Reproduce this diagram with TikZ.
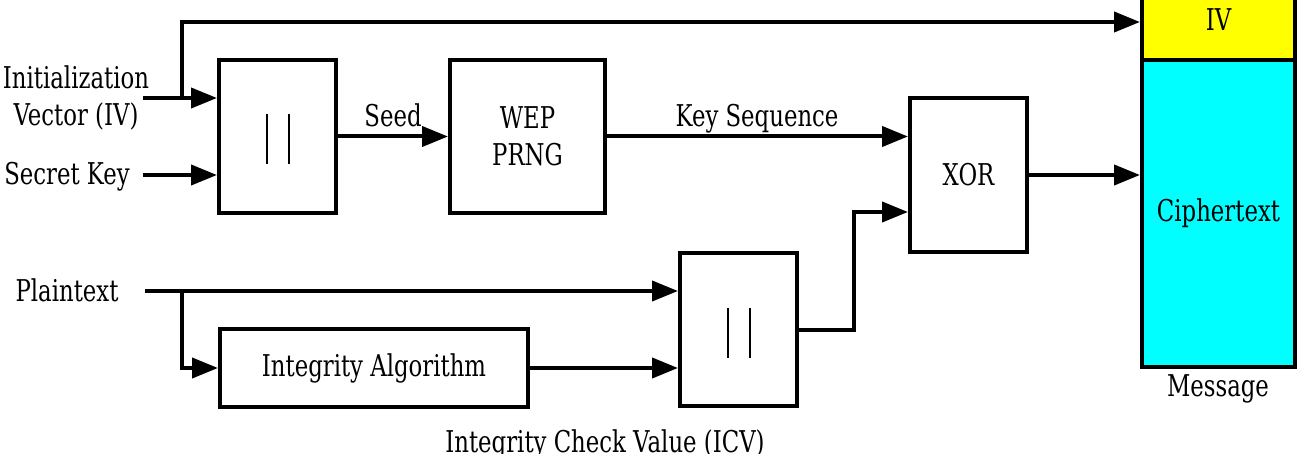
\documentclass[tikz,border=0pt]{standalone}
\usepackage{fontspec}
\setmainfont{DejaVu Serif}[FakeStretch=0.76]
\usetikzlibrary{arrows.meta,positioning}
\definecolor{ivyellow}{RGB}{255,255,0}
\definecolor{msgcyan}{RGB}{0,255,255}
\tikzset
{
    block/.style = {draw=black, line width=4pt, fill=white, align=center, inner sep=0pt},
    lbl/.style   = {inner sep=0pt, align=center},
    flow/.style  = {line width=4pt, -{Triangle[length=26pt,width=20pt]}}
}

\begin{document}
\begin{tikzpicture}[x=1pt,y=-1pt,font=\fontsize{30}{37}\selectfont]
\useasboundingbox (0,0) rectangle (1308,454);
\node [block, minimum width=117pt, minimum height=153pt] at (277.5,136.5) (cat1) {};
\node [block, minimum width=155pt, minimum height=153pt] at (527.5,136.5) (prng) {WEP\\PRNG};
\node [block, minimum width=117pt, minimum height=154pt] at (968.5,175) (xor) {XOR};
\node [block, minimum width=308pt, minimum height=78pt] at (374,368) (integ) {Integrity Algorithm};
\node [block, minimum width=117pt, minimum height=153pt] at (738.5,329.5) (cat2) {};
\node [block, fill=ivyellow, minimum width=153pt, minimum height=80pt] at (1218.5,20) (ivfield) {IV};
\node [block, fill=msgcyan, minimum width=153pt, minimum height=307pt] at (1218.5,213.5) (cipher) {Ciphertext};
\foreach \b in {cat1,cat2}
{
    \draw [line width=2pt] ([xshift=-11pt,yshift=22pt]\b.center) -- ([xshift=-11pt,yshift=-28pt]\b.center);
    \draw [line width=2pt] ([xshift=11pt,yshift=22pt]\b.center) -- ([xshift=11pt,yshift=-28pt]\b.center);
}
\node [lbl] at (76,98) (ivlbl) {Initialization\\Vector (IV)};
\node [lbl, anchor=base] at (67,185) (keylbl) {Secret Key};
\node [lbl, anchor=base] at (67,301) (ptlbl) {Plaintext};
\node [lbl, anchor=base] at (393,127) (seedlbl) {Seed};
\node [lbl, anchor=base] at (757,127) (kslbl) {Key Sequence};
\node [lbl, anchor=base] at (1218,396) (msglbl) {Message};
\node [lbl, anchor=base] at (605,452) (icvlbl) {Integrity Check Value (ICV)};
\coordinate (ivin) at (143,98);
\coordinate (keyin) at (143,175);
\coordinate (ptin) at (145,291);
\coordinate (ivsplit) at (182,98);
\coordinate (ivtop) at (182,22);
\coordinate (ptsplit) at (182,291);
\coordinate (icvup) at (854,212);
\draw [flow] (ivin) -- (ivin -| cat1.west);
\draw [flow] (ivsplit) -- (ivtop) -- (ivtop -| ivfield.west);
\draw [flow] (keyin) -- (keyin -| cat1.west);
\draw [flow] (cat1.east) -- (prng.west);
\draw [flow] (prng.east) -- (prng.east -| xor.west);
\draw [flow] (xor.east) -- (xor.east -| cipher.west);
\draw [flow] (ptin) -- (ptin -| cat2.west);
\draw [flow] (ptsplit) |- (integ.west);
\draw [flow] (integ.east) -- (integ.east -| cat2.west);
\draw [flow] (cat2.east) -| (icvup) -- (icvup -| xor.west);
\end{tikzpicture}
\end{document}
